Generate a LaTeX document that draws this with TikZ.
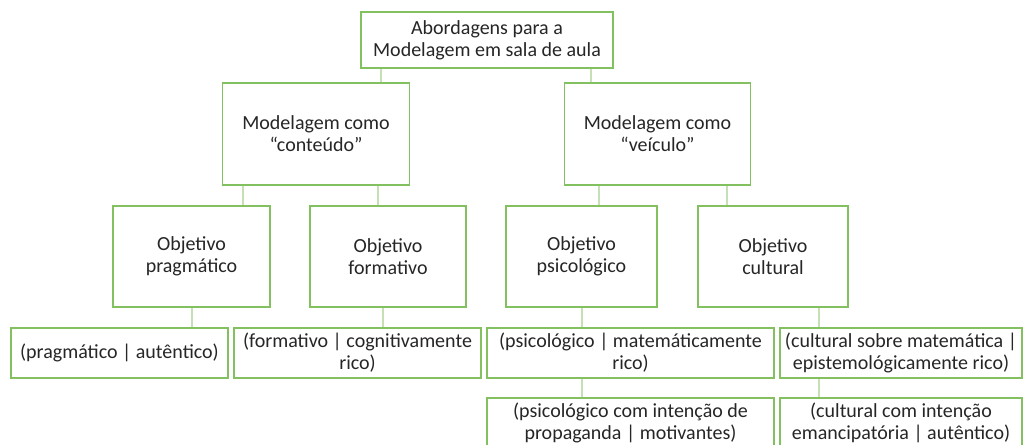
\documentclass[tikz,border=0pt]{standalone}
\usepackage{fontspec}
\setmainfont{Carlito}
\definecolor{boxgreen}{RGB}{130,192,96}
\definecolor{linegreen}{RGB}{197,224,180}
\begin{document}
\begin{tikzpicture}[x=0.75pt,y=-0.75pt]
  \tikzstyle{every node}=[draw=boxgreen,line width=0.9pt,fill=white,align=center,inner sep=0pt,
    font=\fontsize{15}{16.5}\selectfont,text=black!85]
  \tikzstyle{level 2}=[minimum width=140pt,minimum height=76.5pt]
  \tikzstyle{level 3}=[minimum height=75.75pt]
  \tikzstyle{level 4}=[minimum height=37.5pt]
  \tikzstyle{link}=[draw=linegreen,line width=0.9pt]
  \useasboundingbox (0,0) rectangle (1024,445);
  % raiz
  \node[minimum width=189pt,minimum height=42pt] (top) at (487,40) {Abordagens para a\\Modelagem em sala de aula};
  % segundo nivel
  \node[level 2] (mc) at (316,134) {Modelagem como\\``conteúdo''};
  \node[level 2] (mv) at (657.5,134) {Modelagem como\\``veículo''};
  % objetivos
  \node[level 3,minimum width=117.75pt] (op) at (191.5,256.5) {Objetivo\\pragmático};
  \node[level 3,minimum width=117pt] (of) at (388,256.5) {Objetivo\\formativo};
  \node[level 3,minimum width=113.25pt] (ops) at (581.5,256.5) {Objetivo\\psicológico};
  \node[level 3,minimum width=112.5pt] (oc) at (773,256.5) {Objetivo\\cultural};
  % abordagens
  \node[level 4,minimum width=162.75pt] (p4) at (119.5,353) {(pragmático | autêntico)};
  \node[level 4,minimum width=185.25pt] (f4) at (357.5,353) {(formativo | cognitivamente\\rico)};
  \node[level 4,minimum width=215.25pt] (s4) at (630.5,353) {(psicológico | matemáticamente\\rico)};
  \node[level 4,minimum width=181.5pt] (c4) at (901,353) {(cultural sobre matemática |\\epistemológicamente rico)};
  \node[level 4,minimum width=215.25pt] (s5) at (630.5,423) {(psicológico com intenção de\\propaganda | motivantes)};
  \node[level 4,minimum width=181.5pt] (c5) at (901,423) {(cultural com intenção\\emancipatória | autêntico)};
  % ligacoes
  \coordinate (x1) at (381,0);
  \coordinate (x2) at (591,0);
  \coordinate (x3) at (243,0);
  \coordinate (x4) at (378,0);
  \coordinate (x5) at (599,0);
  \coordinate (x6) at (727,0);
  \coordinate (x7) at (192,0);
  \coordinate (x8) at (383,0);
  \coordinate (x9) at (582,0);
  \coordinate (x10) at (819,0);
  \draw[link] (x1 |- top.south) -- (x1 |- mc.north);
  \draw[link] (x2 |- top.south) -- (x2 |- mv.north);
  \draw[link] (x3 |- mc.south) -- (x3 |- op.north);
  \draw[link] (x4 |- mc.south) -- (x4 |- of.north);
  \draw[link] (x5 |- mv.south) -- (x5 |- ops.north);
  \draw[link] (x6 |- mv.south) -- (x6 |- oc.north);
  \draw[link] (x7 |- op.south) -- (x7 |- p4.north);
  \draw[link] (x8 |- of.south) -- (x8 |- f4.north);
  \draw[link] (x9 |- ops.south) -- (x9 |- s4.north);
  \draw[link] (x10 |- oc.south) -- (x10 |- c4.north);
  \draw[link] (x9 |- s4.south) -- (x9 |- s5.north);
  \draw[link] (x10 |- c4.south) -- (x10 |- c5.north);
\end{tikzpicture}
\end{document}
